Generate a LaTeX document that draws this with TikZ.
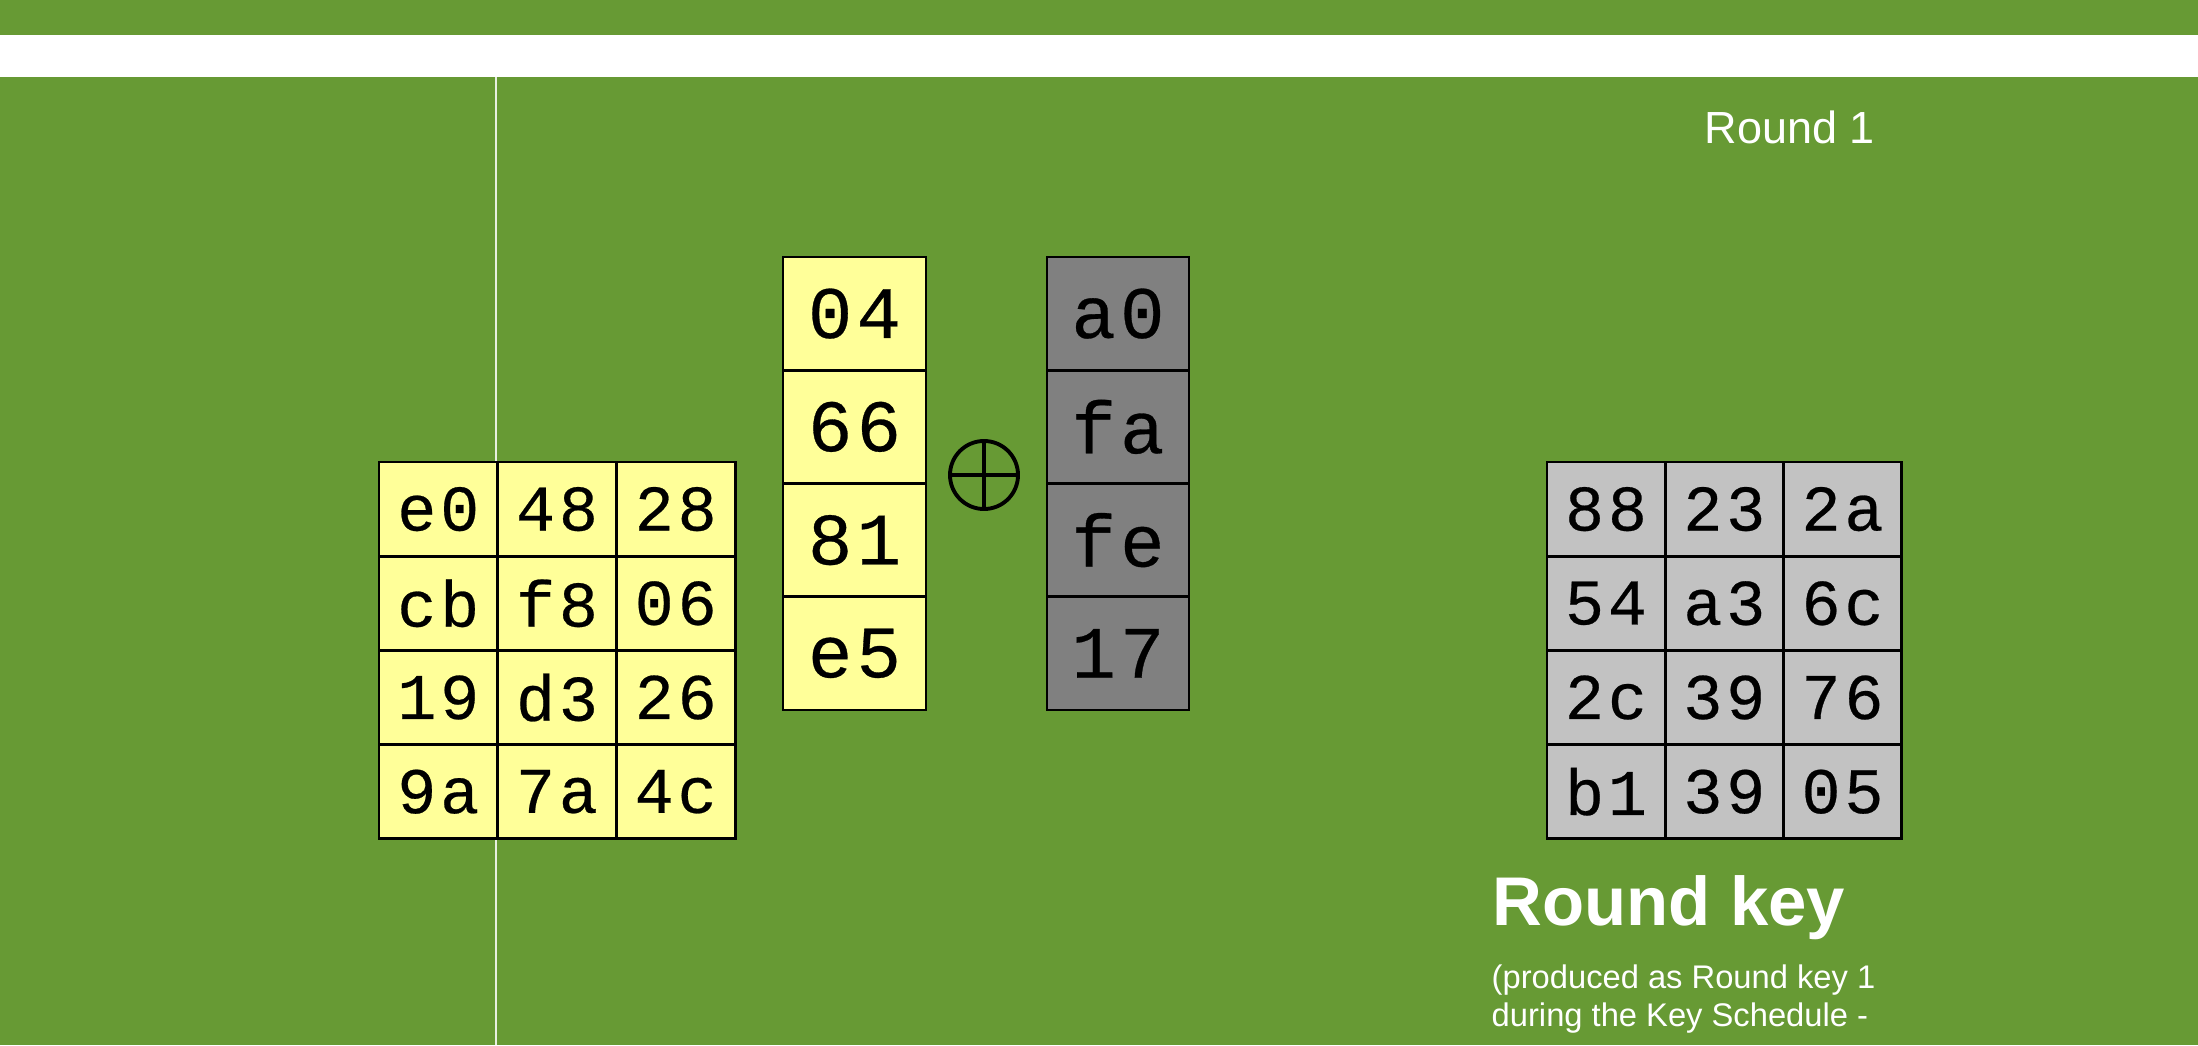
\documentclass[tikz,border=0pt]{standalone}
\usepackage{fontspec}
\setmainfont{Liberation Sans}
\newfontfamily\hexfont[FakeBold=0.4, LetterSpace=6]{Liberation Mono}
\usepackage{tikz}
\usetikzlibrary{positioning}
\definecolor{slidegreen}{RGB}{103,154,52}
\definecolor{stateyellow}{RGB}{255,255,153}
\definecolor{keygray}{RGB}{128,128,128}
\definecolor{roundgray}{RGB}{194,194,194}
\tikzset{
  cell/.style={draw=black, line width=0.8pt, inner sep=0pt,
    minimum width=1.187cm, minimum height=0.942cm,
    font=\hexfont\fontsize{18.5}{18.5}\selectfont},
  wcell/.style={cell, minimum width=1.43cm, minimum height=1.1325cm,
    font=\hexfont\fontsize{21}{21}\selectfont},
  label/.style={anchor=base west, inner sep=0pt, text=white}
}
\begin{document}
\begin{tikzpicture}[x=0.01cm, y=-0.01cm]
\useasboundingbox (0,0) rectangle (2198,1045);
\fill[slidegreen] (0,0) rectangle (2198,1045);
\fill[white] (0,35) rectangle (2198,77);
\draw[white!85!slidegreen, line width=0.6pt] (496,77) -- (496,1045);
% state
\foreach \r/\va/\vb/\vc in {0/e0/48/28, 1/cb/f8/06, 2/19/d3/26, 3/9a/7a/4c} {
  \node[cell, fill=stateyellow] (st-\r-0) at (438.3, {509.1+94.2*\r}) {\va};
  \node[cell, fill=stateyellow] (st-\r-1) at (557.0, {509.1+94.2*\r}) {\vb};
  \node[cell, fill=stateyellow] (st-\r-2) at (675.7, {509.1+94.2*\r}) {\vc};
}
% column and key column
\foreach \r/\v/\k in {0/04/a0, 1/66/fa, 2/81/fe, 3/e5/17} {
  \node[wcell, fill=stateyellow] (col-\r) at (854.5, {313.6+113.25*\r}) {\v};
  \node[wcell, fill=keygray, minimum width=1.42cm] (kcol-\r) at (1118, {313.6+113.25*\r}) {\k};
}
\node[circle, draw, line width=1.1pt, minimum size=0.68cm, inner sep=0pt] (xor) at (984,475) {};
\draw[line width=1.1pt] (xor.north) -- (xor.south) (xor.west) -- (xor.east);
% round key
\foreach \r/\va/\vb/\vc in {0/88/23/2a, 1/54/a3/6c, 2/2c/39/76, 3/b1/39/05} {
  \node[cell, fill=roundgray, minimum width=1.18cm] (rk-\r-0) at (1606.0, {509.1+94.2*\r}) {\va};
  \node[cell, fill=roundgray, minimum width=1.18cm] (rk-\r-1) at (1724.3, {509.1+94.2*\r}) {\vb};
  \node[cell, fill=roundgray, minimum width=1.18cm] (rk-\r-2) at (1842.5, {509.1+94.2*\r}) {\vc};
}
\node[label, font=\fontsize{12.8}{15}\selectfont] (roundno) at (1704,143) {Round 1};
\node[label, font=\bfseries\fontsize{19.6}{23}\selectfont] (keytitle) at (1492,925) {Round key};
\node[label, font=\fontsize{9.3}{11}\selectfont] (note1) at (1491,988) {(produced as Round key 1};
\node[label, font=\fontsize{9.3}{11}\selectfont] (note2) at (1491,1026) {during the Key Schedule -};
\end{tikzpicture}
\end{document}
